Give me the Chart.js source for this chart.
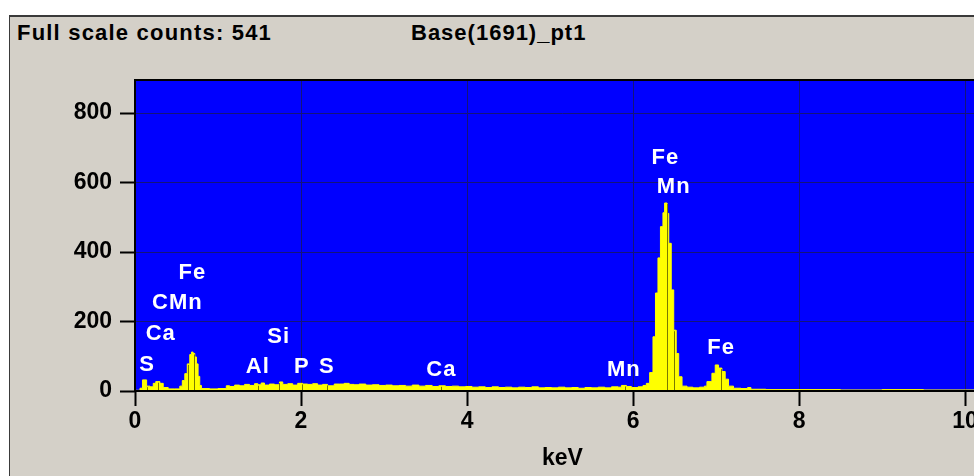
<!DOCTYPE html>
<html>
<head>
<meta charset="utf-8">
<title>Base(1691)_pt1</title>
<script src="https://cdn.jsdelivr.net/npm/chart.js@4.4.1/dist/chart.umd.min.js"></script>
<style>
  html, body { margin: 0; padding: 0; background: #fff; }
  body { width: 974px; height: 476px; overflow: hidden; position: relative; font-family: "Liberation Sans", Arial, sans-serif; }
  #panel { position: absolute; left: 9px; top: 15px; width: 1000px; height: 480px; background: #d4d0c8; border-top: 2px solid #3a3a3a; border-left: 1px solid #3a3a3a; }
  .hdr { position: absolute; top: 22px; font-weight: bold; font-size: 22px; line-height: 22px; letter-spacing: 1.2px; color: #000; white-space: nowrap; }
  #spec { position: absolute; left: 0; top: 0; }
</style>
</head>
<body>
<div id="panel"></div>
<div class="hdr" style="left:17px">Full scale counts: 541</div>
<div class="hdr" style="left:411px; letter-spacing:1px">Base(1691)_pt1</div>
<canvas id="spec" width="1000" height="476"></canvas>
<script>
// Spectrum channels (start of each step, keV) and counts
const energyKeV = [
    0.00, 0.06, 0.09, 0.14, 0.18, 0.22, 0.25, 0.30, 0.34, 0.40,
    0.48, 0.54, 0.57, 0.60, 0.63, 0.66, 0.68, 0.70, 0.72, 0.74,
    0.76, 0.78, 0.80, 0.90, 1.00, 1.10, 1.14, 1.20, 1.26, 1.32,
    1.38, 1.44, 1.48, 1.52, 1.56, 1.62, 1.68, 1.74, 1.78, 1.84,
    1.90, 1.96, 2.02, 2.08, 2.14, 2.20, 2.26, 2.32, 2.40, 2.46,
    2.52, 2.58, 2.64, 2.70, 2.78, 2.86, 2.94, 3.02, 3.10, 3.18,
    3.26, 3.34, 3.42, 3.50, 3.58, 3.66, 3.74, 3.82, 3.90, 3.98,
    4.06, 4.14, 4.22, 4.30, 4.38, 4.46, 4.54, 4.62, 4.70, 4.78,
    4.86, 4.94, 5.02, 5.10, 5.18, 5.26, 5.34, 5.42, 5.50, 5.58,
    5.66, 5.74, 5.82, 5.86, 5.92, 5.98, 6.06, 6.12, 6.16, 6.20,
    6.24, 6.27, 6.30, 6.33, 6.36, 6.38, 6.41, 6.43, 6.46, 6.49,
    6.52, 6.55, 6.59, 6.65, 6.72, 6.80, 6.86, 6.89, 6.95, 6.99,
    7.03, 7.07, 7.11, 7.15, 7.21, 7.30, 7.38, 7.42, 7.60, 8.00,
    8.50, 9.00, 9.50, 10.00, 10.40
];
const counts = [
    2, 8, 32, 14, 12, 22, 27, 22, 10, 6,
    6, 14, 30, 50, 78, 105, 112, 108, 98, 78,
    42, 16, 7, 6, 7, 15, 13, 17, 15, 19,
    16, 21, 18, 23, 17, 20, 18, 26, 19, 21,
    17, 22, 20, 19, 21, 17, 19, 15, 20, 20,
    22, 19, 18, 20, 17, 18, 16, 17, 15, 16,
    14, 17, 14, 16, 13, 15, 13, 14, 12, 13,
    11, 12, 10, 12, 10, 11, 9, 11, 10, 12,
    9, 10, 9, 11, 9, 10, 8, 10, 9, 11,
    9, 12, 11, 16, 13, 10, 12, 16, 22, 53,
    156, 282, 383, 473, 513, 541, 511, 425, 291, 175,
    108, 41, 14, 11, 9, 11, 14, 27, 51, 75,
    66, 56, 34, 14, 8, 7, 10, 5, 4, 4,
    3, 4, 3, 3, 3
];

// Element line markers (keV)
const markerKeV = [0.15, 0.277, 0.637, 0.705, 1.487, 1.74, 2.013, 2.307, 3.69, 5.899, 6.404, 6.49, 7.058];

// Peak labels: text, centre energy, centre height in counts
const peakLabels      = ['S', 'Ca', 'CMn', 'Fe', 'Al', 'Si', 'P', 'S', 'Ca', 'Mn', 'Fe', 'Mn', 'Fe'];
const peakLabelKeV    = [0.145, 0.31, 0.51, 0.69, 1.48, 1.73, 2.01, 2.31, 3.69, 5.89, 6.39, 6.49, 7.06];
const peakLabelCounts = [75, 164, 254, 340, 69, 155, 69, 69, 60, 60, 672, 586, 123];

const xTickValues = [0, 2, 4, 6, 8, 10];
const yTickValues = [0, 200, 400, 600, 800];

const tickFont = { family: '"Liberation Sans", Arial, sans-serif', size: 23, weight: 'bold' };

// Blue plot background, markers, labels and black frame
const plotFrame = {
    id: 'plotFrame',
    beforeDraw(chart) {
        const { ctx, chartArea: a } = chart;
        ctx.save();
        ctx.fillStyle = '#0000ff';
        ctx.fillRect(a.left, a.top, a.right - a.left, a.bottom - a.top);
        ctx.restore();
    },
    afterDatasetsDraw(chart) {
        const { ctx, chartArea: a, scales } = chart;
        ctx.save();

        // marker lines inside the spectrum
        ctx.strokeStyle = '#7a7a00';
        ctx.lineWidth = 1;
        markerKeV.forEach(m => {
            let i = 0;
            while (i < energyKeV.length - 1 && energyKeV[i + 1] <= m) i++;
            const x = Math.round(scales.x.getPixelForValue(m)) + 0.5;
            ctx.beginPath();
            ctx.moveTo(x, scales.y.getPixelForValue(0));
            ctx.lineTo(x, scales.y.getPixelForValue(counts[i]) + 1);
            ctx.stroke();
        });

        // labels
        ctx.font = 'bold 22px "Liberation Sans", Arial, sans-serif';
        ctx.letterSpacing = '1px';
        ctx.fillStyle = '#ffffff';
        ctx.textAlign = 'center';
        ctx.textBaseline = 'middle';
        peakLabels.forEach((t, i) => {
            ctx.fillText(t, scales.x.getPixelForValue(peakLabelKeV[i]), scales.y.getPixelForValue(peakLabelCounts[i]));
        });

        // frame
        ctx.strokeStyle = '#000000';
        ctx.lineWidth = 2;
        ctx.beginPath();
        ctx.moveTo(a.right + 5, a.top);
        ctx.lineTo(a.left, a.top);
        ctx.lineTo(a.left, a.bottom);
        ctx.lineTo(a.right + 5, a.bottom);
        ctx.stroke();
        ctx.restore();
    }
};

new Chart(document.getElementById('spec'), {
    type: 'line',
    data: {
        datasets: [{
            data: energyKeV.map((e, i) => ({ x: e, y: counts[i] })),
            stepped: true,
            fill: 'origin',
            backgroundColor: '#ffff00',
            borderColor: '#ffff00',
            borderWidth: 1,
            pointRadius: 0
        }]
    },
    options: {
        responsive: false,
        animation: false,
        layout: { padding: { top: 80, right: 10, left: 0, bottom: 0 } },
        plugins: {
            legend: { display: false },
            tooltip: { enabled: false }
        },
        scales: {
            x: {
                type: 'linear',
                min: 0,
                max: 10.3,
                afterBuildTicks: s => { s.ticks = xTickValues.map(v => ({ value: v })); },
                afterFit: s => { s.height = 85; },
                grid: { color: '#14147a', lineWidth: 1, tickColor: '#000', tickWidth: 2, tickLength: 15 },
                border: { display: false },
                ticks: { color: '#000', font: tickFont, padding: 2, maxRotation: 0, autoSkip: false },
                title: { display: true, text: 'keV', color: '#000', font: tickFont, padding: { top: 0, bottom: 4 } }
            },
            y: {
                min: 0,
                max: 895,
                afterBuildTicks: s => { s.ticks = yTickValues.map(v => ({ value: v })); },
                afterFit: s => { s.width = 135; },
                grid: { color: '#14147a', lineWidth: 1, tickColor: '#000', tickWidth: 2, tickLength: 15 },
                border: { display: false },
                ticks: { color: '#000', font: tickFont, padding: 8 }
            }
        }
    },
    plugins: [plotFrame]
});
</script>
</body>
</html>
